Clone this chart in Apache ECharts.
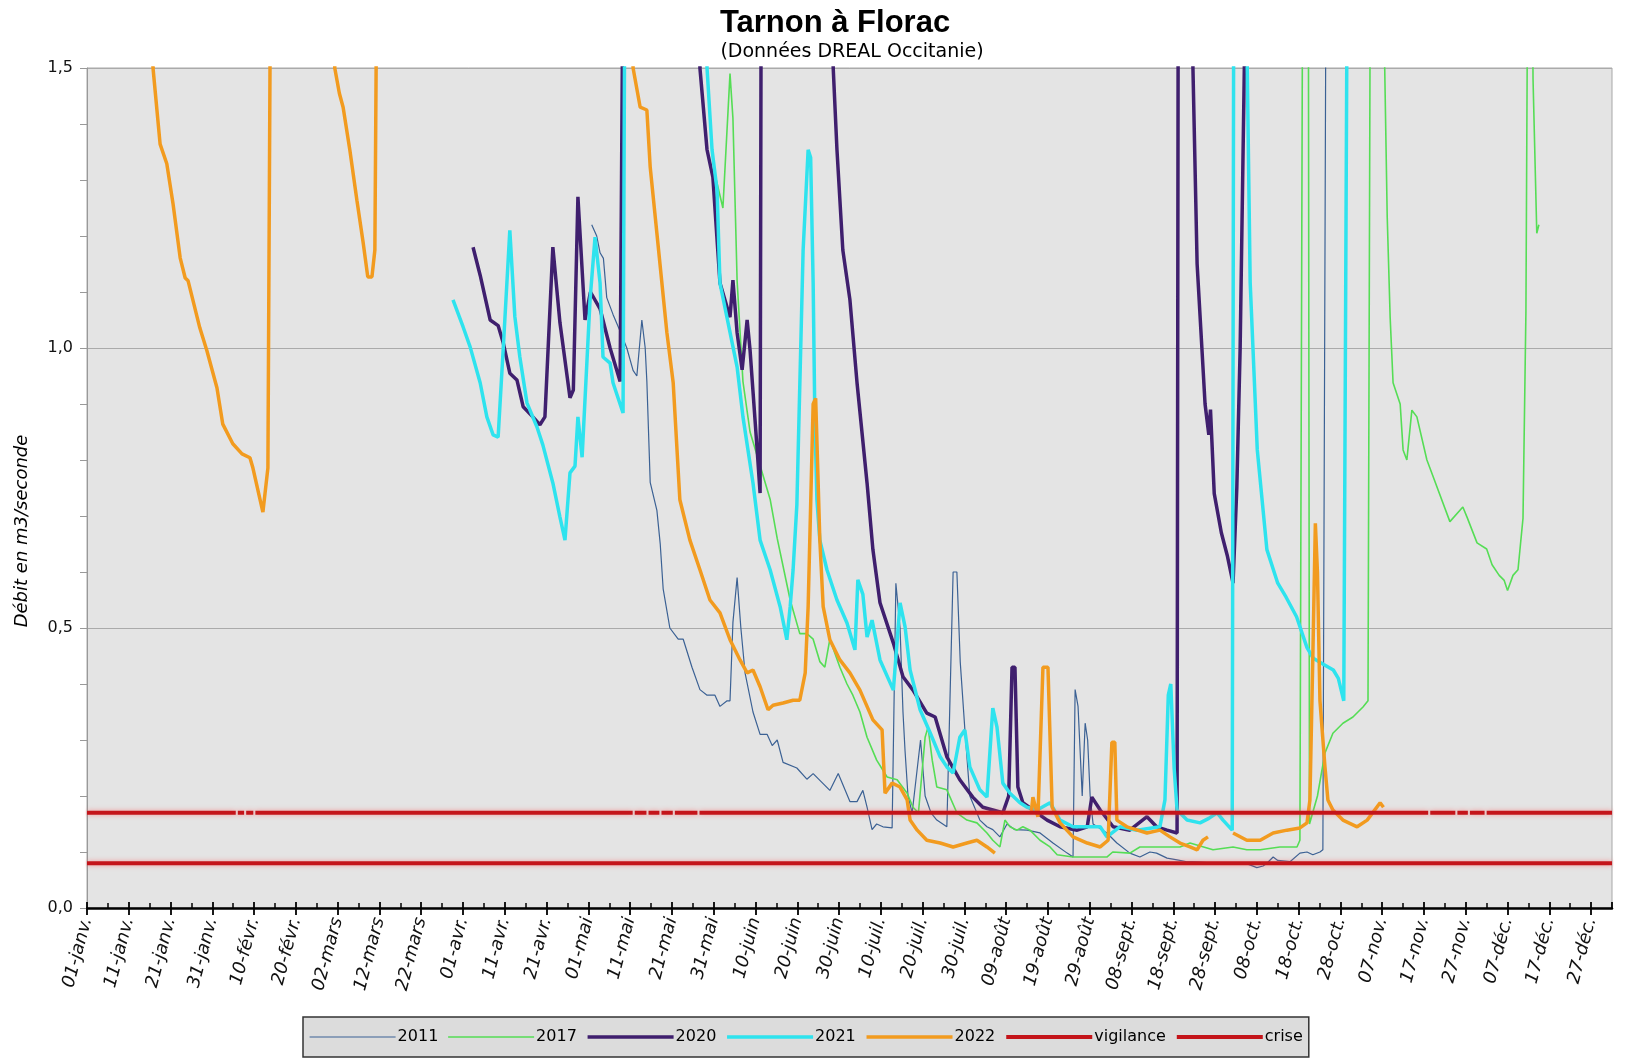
<!DOCTYPE html>
<html><head><meta charset="utf-8">
<script src="https://cdn.jsdelivr.net/npm/echarts@6/dist/echarts.min.js"></script>
<style>html,body{margin:0;padding:0;background:#fff}#c{width:1625px;height:1060px}</style>
</head><body><div id="c"></div>
<script>
// x = day of year (0 = 01-janv.), y = débit (m3/s); values above 1.5 are off the chart (1.8 = off-scale)
const tickLabels = ["01-janv.","11-janv.","21-janv.","31-janv.","10-févr.","20-févr.","02-mars","12-mars","22-mars","01-avr.","11-avr.","21-avr.","01-mai","11-mai","21-mai","31-mai","10-juin","20-juin","30-juin","10-juil.","20-juil.","30-juil.","09-août","19-août","29-août","08-sept.","18-sept.","28-sept.","08-oct.","18-oct.","28-oct.","07-nov.","17-nov.","27-nov.","07-déc.","17-déc.","27-déc."];
const seriesNames = ["2011","2017","2020","2021","2022","vigilance","crise"];
const q2011 = [[120.8,1.22],[122,1.2],[122.8,1.17],[123.6,1.16],[124.4,1.09],[125.9,1.06],[127.6,1.03],[129.2,1.0],[130.7,0.96],[131.6,0.95],[132.8,1.05],[133.6,1.0],[134,0.94],[134.8,0.76],[136.4,0.71],[137.2,0.65],[137.9,0.57],[139.5,0.5],[141.5,0.48],[142.7,0.48],[144.8,0.43],[146.7,0.39],[148.4,0.38],[150.3,0.38],[151.5,0.36],[153.2,0.37],[153.9,0.37],[154.6,0.51],[155.6,0.59],[156.5,0.5],[157.5,0.42],[159.4,0.35],[161.1,0.31],[162.8,0.31],[164,0.29],[165.2,0.3],[166.6,0.26],[169.9,0.25],[172.3,0.23],[173.8,0.24],[177.8,0.21],[179.8,0.24],[182.6,0.19],[184.3,0.19],[185.7,0.21],[186.7,0.18],[187.9,0.14],[189,0.15],[190.5,0.145],[192.7,0.143],[193.6,0.58],[194.6,0.5],[195.3,0.35],[195.8,0.28],[196.5,0.2],[197.5,0.17],[199.5,0.3],[200.6,0.2],[202,0.17],[203.4,0.157],[205.8,0.145],[207.3,0.6],[208.2,0.6],[209,0.44],[210.1,0.32],[211.3,0.2],[213.7,0.157],[215.4,0.145],[216.8,0.14],[218.5,0.127],[220.2,0.15],[222,0.14],[225,0.139],[228.1,0.134],[231.2,0.116],[234.6,0.098],[236,0.091],[236.5,0.39],[237.2,0.36],[238.2,0.2],[238.9,0.33],[239.5,0.3],[240.1,0.2],[240.8,0.15],[244.1,0.134],[246.5,0.116],[249.6,0.098],[252,0.091],[254.4,0.1],[256,0.098],[258.5,0.089],[260.9,0.086],[263,0.083],[266,0.082],[270,0.08],[274,0.08],[278,0.078],[280,0.072],[281.5,0.075],[282.4,0.08],[283.9,0.091],[285,0.085],[288,0.083],[290.3,0.098],[292,0.1],[293.4,0.095],[295.1,0.1],[295.8,0.104],[296.6,1.8]];
const q2017 = [[150.3,1.31],[152.2,1.25],[153.9,1.49],[154.6,1.41],[155.6,1.12],[157,0.94],[158.7,0.85],[161.1,0.79],[163.5,0.73],[165.2,0.66],[168.3,0.55],[170.6,0.49],[172.3,0.49],[173.8,0.48],[175.4,0.44],[176.6,0.43],[177.8,0.48],[180.2,0.43],[181.9,0.4],[183.3,0.38],[185,0.35],[186.7,0.305],[189,0.264],[191.5,0.234],[193.9,0.229],[196.3,0.205],[197.7,0.18],[199,0.17],[200.6,0.305],[201.3,0.323],[202.3,0.264],[203.4,0.216],[205.8,0.211],[208.2,0.17],[210.6,0.157],[213,0.152],[215.4,0.134],[216.8,0.121],[218.5,0.109],[219.7,0.157],[220.9,0.145],[222.6,0.139],[224,0.145],[225.7,0.139],[228.1,0.121],[230.5,0.109],[232.2,0.095],[236,0.091],[240.8,0.091],[244.1,0.091],[245.5,0.1],[249.6,0.098],[252,0.109],[261.6,0.109],[264,0.116],[269.5,0.104],[274.3,0.109],[277.6,0.104],[280.8,0.104],[285.5,0.109],[289.6,0.109],[290.3,0.121],[291,1.8],[292.3,1.8],[292.6,0.15],[294.5,0.2],[296.3,0.277],[298.2,0.312],[300.6,0.33],[303,0.341],[305.4,0.359],[306.6,0.37],[307.2,1.8],[310,1.8],[310.6,1.5],[311.2,1.234],[311.9,1.055],[312.6,0.938],[314.3,0.9],[315,0.818],[315.9,0.8],[317.1,0.889],[318.3,0.877],[320.7,0.8],[322.2,0.77],[326.2,0.69],[329.3,0.716],[330.3,0.698],[332.7,0.652],[335,0.641],[336.3,0.613],[338,0.594],[339.2,0.585],[340,0.567],[341.3,0.594],[342.5,0.604],[343.7,0.696],[344.4,1.066],[344.9,1.8],[345.8,1.8],[346.1,1.48],[347,1.205],[347.5,1.22]];
const q2020 = [[92.4,1.18],[94.1,1.13],[96.5,1.05],[98.4,1.04],[99.6,1.01],[101.2,0.955],[102.9,0.943],[104.4,0.895],[106.7,0.877],[108.4,0.863],[109.6,0.877],[111.5,1.18],[113.2,1.045],[115.6,0.911],[116.4,0.925],[117.5,1.27],[119.2,1.05],[120.5,1.1],[122.8,1.07],[125.2,1.0],[127.6,0.94],[128.4,1.8],[146.5,1.8],[146.7,1.5],[148.4,1.354],[149.8,1.305],[151.5,1.116],[153.9,1.055],[154.6,1.121],[155.6,1.027],[156.8,0.961],[158,1.05],[158.7,0.996],[160.4,0.818],[161.1,0.741],[161.4,1.8],[178.4,1.8],[178.6,1.5],[179.5,1.354],[180.9,1.175],[182.6,1.086],[184.3,0.938],[186.7,0.759],[188.1,0.64],[189.8,0.545],[193,0.473],[195.3,0.413],[197.7,0.389],[201,0.348],[203,0.341],[205.8,0.27],[208.9,0.229],[212,0.198],[214.4,0.18],[216.8,0.175],[219.2,0.17],[220.6,0.2],[221.4,0.43],[222.1,0.43],[222.8,0.216],[224,0.188],[226.4,0.175],[229.8,0.157],[232.9,0.145],[237,0.139],[239.4,0.145],[240.5,0.198],[242.5,0.175],[245.6,0.145],[249.6,0.139],[253.7,0.163],[256,0.145],[258.5,0.139],[260.9,0.134],[261.2,1.8],[264.5,1.8],[264.7,1.5],[265.7,1.15],[267.6,0.9],[268.5,0.845],[268.9,0.89],[269.8,0.74],[271.5,0.67],[272.9,0.63],[274.3,0.58],[275.2,0.75],[276,1.0],[276.6,1.3],[277.2,1.6]];
const q2021 = [[87.6,1.086],[90,1.038],[91.7,1.002],[94.1,0.938],[95.7,0.877],[97.2,0.845],[98.4,0.841],[99.6,0.996],[101.2,1.21],[102.4,1.056],[103.6,0.984],[105.3,0.902],[107.7,0.859],[109.1,0.827],[111.5,0.759],[113.2,0.698],[114.4,0.657],[115.6,0.777],[116.8,0.789],[117.5,0.877],[118.5,0.805],[120.4,1.086],[121.6,1.198],[122.8,1.116],[123.5,0.984],[125.2,0.973],[125.9,0.938],[128.3,0.884],[128.8,1.8],[148,1.8],[148.4,1.5],[149.6,1.354],[150.8,1.282],[151.5,1.116],[155.6,0.966],[157,0.877],[159.4,0.759],[161.1,0.657],[163.5,0.604],[165.9,0.538],[167.5,0.479],[168.3,0.538],[169,0.604],[169.9,0.72],[171.4,1.175],[172.6,1.354],[173.2,1.34],[173.8,1.116],[174.2,0.877],[174.7,0.729],[175.4,0.657],[177.1,0.604],[179.5,0.55],[181.9,0.509],[183.8,0.461],[184.5,0.586],[185.7,0.56],[186.7,0.484],[187.9,0.514],[189.8,0.443],[193,0.389],[194.6,0.545],[195.8,0.502],[197,0.425],[199.4,0.354],[201.8,0.313],[204.2,0.27],[205.8,0.252],[207.3,0.241],[208.9,0.305],[210.1,0.318],[211.3,0.252],[213.7,0.211],[215.4,0.198],[216.8,0.357],[217.8,0.323],[219.2,0.223],[220.9,0.205],[223.3,0.188],[225,0.18],[227.4,0.175],[230.5,0.188],[232.9,0.157],[236,0.145],[239.4,0.145],[242.5,0.145],[244.1,0.127],[247.2,0.145],[251.3,0.139],[256.8,0.145],[258,0.193],[258.8,0.38],[259.4,0.4],[260.2,0.25],[260.9,0.175],[263.3,0.157],[266.4,0.152],[268.5,0.16],[270.5,0.17],[271.9,0.157],[274.1,0.139],[274.5,1.8],[277.3,1.8],[277.7,1.5],[278.4,1.117],[280.1,0.818],[282.4,0.64],[285,0.58],[287,0.555],[289.5,0.52],[292,0.465],[293.5,0.446],[296,0.435],[298.3,0.425],[299.5,0.41],[300.8,0.37],[301.7,1.8]];
const q2022 = [[14.5,1.8],[15.8,1.5],[17.5,1.364],[19.1,1.329],[20.6,1.257],[22.3,1.161],[23.5,1.125],[24.2,1.12],[27,1.036],[28.7,0.995],[31.1,0.929],[32.5,0.864],[34.9,0.829],[37.1,0.811],[39,0.804],[39.7,0.786],[42.1,0.707],[43.3,0.786],[43.8,1.5],[44,1.8],[59,1.8],[59.3,1.5],[60.4,1.455],[61.3,1.43],[62.9,1.354],[64.6,1.264],[66.1,1.188],[67.2,1.127],[68.2,1.127],[68.9,1.175],[69.2,1.5],[69.5,1.8],[130.3,1.8],[130.7,1.5],[132.4,1.43],[134,1.425],[134.8,1.323],[136.4,1.205],[138.8,1.027],[140.3,0.938],[141.9,0.729],[144.3,0.657],[146.7,0.604],[149.1,0.55],[151.5,0.527],[153.9,0.479],[156.3,0.443],[158,0.42],[159.4,0.425],[161.1,0.395],[163,0.354],[164.2,0.362],[166.6,0.366],[169,0.371],[170.6,0.371],[171.9,0.42],[172.6,0.538],[173.8,0.9],[174.4,0.91],[175.4,0.657],[176.2,0.538],[177.8,0.479],[180.2,0.443],[182.6,0.42],[185,0.389],[188.1,0.336],[190.3,0.318],[191,0.205],[192.7,0.223],[194.6,0.216],[196.3,0.193],[197,0.157],[198.7,0.139],[201,0.121],[204.2,0.116],[207.3,0.109],[210.6,0.116],[213,0.121],[215.4,0.109],[217.3,0.098],[219,null],[226,0.17],[226.4,0.198],[227.6,0.163],[228.8,0.43],[230,0.43],[231,0.18],[232.9,0.152],[236,0.127],[239.4,0.116],[242.5,0.109],[244.4,0.121],[245.3,0.296],[246,0.296],[246.5,0.157],[248.9,0.145],[253.7,0.134],[256.8,0.139],[259.2,0.127],[261.6,0.116],[264,0.109],[265.7,0.104],[267.1,0.121],[268.3,0.127],[271,null],[274.3,0.134],[277.6,0.121],[280.8,0.121],[283.9,0.134],[287.2,0.139],[290.3,0.143],[292,0.152],[292.7,0.193],[293.4,0.45],[294,0.687],[294.5,0.6],[295.1,0.37],[296.3,0.252],[297,0.193],[298.2,0.175],[300.6,0.157],[304,0.145],[306.4,0.157],[309.5,0.188],[310.3,0.18]];
// thresholds; the vigilance line has a few small breaks in the source picture
const vigilance = [[0,0.17],[35.6,0.17],[35.8,null],[36.1,0.17],[37.6,0.17],[37.8,null],[38.1,0.17],[39.8,0.17],[40,null],[40.3,0.17],[130.6,0.17],[130.8,null],[131.1,0.17],[133.9,0.17],[134.1,null],[134.4,0.17],[137,0.17],[137.2,null],[137.5,0.17],[140.2,0.17],[140.4,null],[140.7,0.17],[146.1,0.17],[146.3,null],[146.6,0.17],[321,0.17],[321.2,null],[321.5,0.17],[327.5,0.17],[327.7,null],[328,0.17],[330.5,0.17],[330.7,null],[331,0.17],[334.5,0.17],[334.7,null],[335,0.17],[365,0.17]];
const crise = [[0,0.08],[365,0.08]];

const colors = ["#3b6194","#55dd55","#3f1f6e","#2ee3ee","#f29b1f","#c4141a","#c4141a"];
const widths = [1.2,1.6,3.5,3.5,3.5,4,4];
const datasets = [q2011,q2017,q2020,q2021,q2022,vigilance,crise];

const chart = echarts.init(document.getElementById('c'), null, {renderer:'canvas'});
const small = "'DejaVu Sans', 'Liberation Sans', Arial, sans-serif";
chart.setOption({
  animation:false,
  backgroundColor:'#ffffff',
  textStyle:{fontFamily:small},
  graphic:[
    {type:'text', x:835, y:8, style:{text:'Tarnon à Florac', textAlign:'center', font:"bold 31px 'Liberation Sans', Arial", fill:'#000'}},
    {type:'text', x:852, y:43, style:{text:'(Données DREAL Occitanie)', textAlign:'center', font:"19px 'DejaVu Sans', Arial", fill:'#000'}},
    {type:'text', x:13, y:531, rotation:Math.PI/2, style:{text:'Débit en m3/seconde', textAlign:'center', textVerticalAlign:'top', font:"italic 18px 'DejaVu Sans', Arial", fill:'#000'}}
  ],
  grid:{left:87, right:13, top:68, bottom:152, show:true, backgroundColor:'#e4e4e4', borderColor:'#a8a8a8', borderWidth:1},
  legend:{
    data: seriesNames.map(function(n,i){ return {name:n, lineStyle:{width:widths[i], color:colors[i]}, itemStyle:{opacity:0}}; }),
    left:303, top:1017, orient:'horizontal',
    itemWidth:86, itemHeight:14, itemGap:9,
    padding:[12,6,12,6],
    backgroundColor:'#dcdcdc', borderColor:'#333', borderWidth:1.5,
    itemStyle:{opacity:0},
    textStyle:{fontSize:16, color:'#000', fontFamily:small, padding:[0,0,0,-3]}
  },
  xAxis:[{
    type:'value', min:0, max:365, interval:10,
    axisLine:{show:true, onZero:false, lineStyle:{color:'#000', width:2.5}},
    axisTick:{show:true, length:7, lineStyle:{color:'#000', width:1.8}},
    minorTick:{show:false},
    splitLine:{show:false},
    axisLabel:{rotate:75, fontStyle:'italic', fontSize:18, color:'#111', margin:10, showMaxLabel:false,
      fontFamily:small,
      formatter:function(v){ return (v % 10 === 0 && v/10 < tickLabels.length) ? tickLabels[v/10] : ''; }}
  },{
    type:'value', min:0, max:365, interval:10, position:'bottom',
    axisLine:{show:false},
    axisTick:{show:true, inside:true, length:6, lineStyle:{color:'#000', width:1.8}},
    minorTick:{show:true, splitNumber:2, length:5, lineStyle:{color:'#000', width:1.5}},
    splitLine:{show:false}, axisLabel:{show:false}
  }],
  yAxis:{
    type:'value', min:0, max:1.5, interval:0.5,
    axisLine:{show:true, lineStyle:{color:'#999', width:1}},
    axisTick:{show:true, length:7, lineStyle:{color:'#999'}},
    minorTick:{show:true, splitNumber:5, length:7, lineStyle:{color:'#999'}},
    splitLine:{show:true, lineStyle:{color:'#aaaaaa', width:1.2}},
    axisLabel:{fontSize:16, color:'#111', margin:14, fontFamily:small,
      formatter:function(v){ return v.toFixed(1).replace('.', ','); }}
  },
  series: seriesNames.map(function(n,i){
    return {
      name:n, type:'line', data:datasets[i], symbol:'none', showSymbol:false, clip:true,
      connectNulls:false, z: 2+i, xAxisIndex:0,
      lineStyle:{color:colors[i], width:widths[i],
        shadowColor: i>=5 ? 'rgba(255,90,90,0.55)' : 'transparent', shadowBlur: i>=5 ? 5 : 0},
      itemStyle:{color:colors[i]}
    };
  })
});
</script></body></html>
